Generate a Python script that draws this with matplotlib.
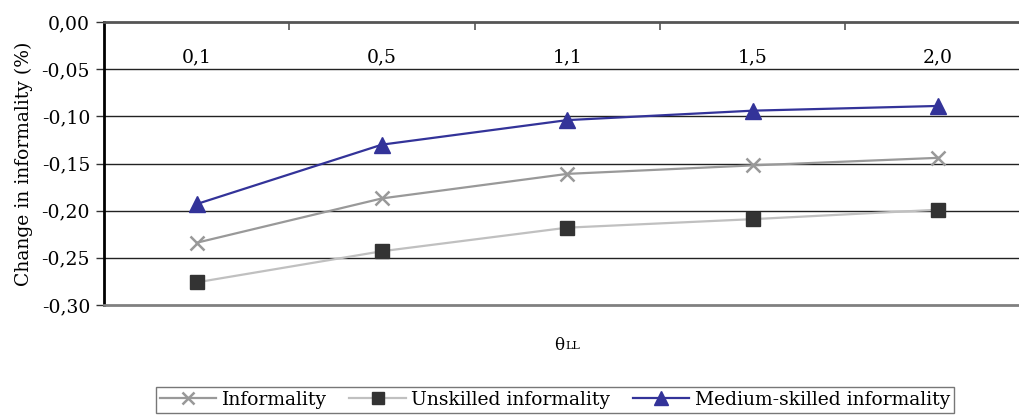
import matplotlib
matplotlib.use("Agg")
import matplotlib.pyplot as plt
from matplotlib.ticker import FuncFormatter, FixedLocator

categories = ["0,1", "0,5", "1,1", "1,5", "2,0"]
informality = [-0.234, -0.187, -0.161, -0.152, -0.144]
unskilled = [-0.276, -0.243, -0.218, -0.209, -0.199]
medium = [-0.193, -0.130, -0.104, -0.094, -0.089]

plt.rcParams['font.family'] = ['DejaVu Serif']
plt.rcParams['font.size'] = 13.5

fig = plt.figure(figsize=(10.2, 4.16), dpi=100)
ax = fig.add_axes([104/1020, 1-305/416, 1-104/1020, (305-22)/416])

x = list(range(len(categories)))
ax.plot(x, informality, color='#999999', lw=1.6, marker='x', ms=10, mew=1.8,
        mec='#999999', label='Informality', zorder=3)
ax.plot(x, unskilled, color='#c0c0c0', lw=1.6, marker='s', ms=10,
        mfc='#333333', mec='#333333', label='Unskilled informality', zorder=3)
ax.plot(x, medium, color='#333399', lw=1.6, marker='^', ms=11,
        mfc='#333399', mec='#333399', label='Medium-skilled informality', zorder=4)

ax.set_ylim(-0.30, 0.0)
ax.set_xlim(-0.5, 4.443)
yt = [0.0, -0.05, -0.10, -0.15, -0.20, -0.25, -0.30]
ax.set_yticks(yt)
ax.yaxis.set_major_formatter(FuncFormatter(lambda v, p: f"{v:.2f}".replace('.', ',').replace('-0,00', '0,00')))
for v in yt[1:-1]:
    ax.axhline(v, color='#222222', lw=1, zorder=1)
ax.tick_params(axis='y', direction='out', length=6, width=1, color='#333333', pad=4)

ax.xaxis.tick_top()
ax.set_xticks([])
ax.xaxis.set_minor_locator(FixedLocator([0.5, 1.5, 2.5, 3.5]))
ax.tick_params(axis='x', which='minor', direction='in', length=6, width=1.2, color='#555555')
for xi, c in zip(x, categories):
    ax.text(xi, 0.876, c, transform=ax.get_xaxis_transform(), ha='center', va='center')

ax.spines['right'].set_visible(False)
ax.spines['left'].set_color('#000000')
ax.spines['left'].set_linewidth(2)
ax.spines['top'].set_color('#555555')
ax.spines['top'].set_linewidth(2)
ax.spines['bottom'].set_color('#808080')
ax.spines['bottom'].set_linewidth(2)

ax.set_ylabel("Change in informality (%)", labelpad=6)
fig.text(565/1020, 1-345/416, r"$\mathregular{\theta}$", ha='right', va='center', fontsize=12)
fig.text(565/1020, 1-346/416, "LL", ha='left', va='center', fontsize=8)

leg = ax.legend(loc='upper center', bbox_to_anchor=(555/1020, 1-387/416),
                bbox_transform=fig.transFigure, ncol=3, frameon=True, fancybox=False,
                edgecolor='#555555', handlelength=3, columnspacing=1.2,
                handletextpad=0.3, borderpad=0.2, borderaxespad=0, markerscale=0.9)
leg.get_frame().set_linewidth(1)

fig.savefig("out.png", dpi=100)
